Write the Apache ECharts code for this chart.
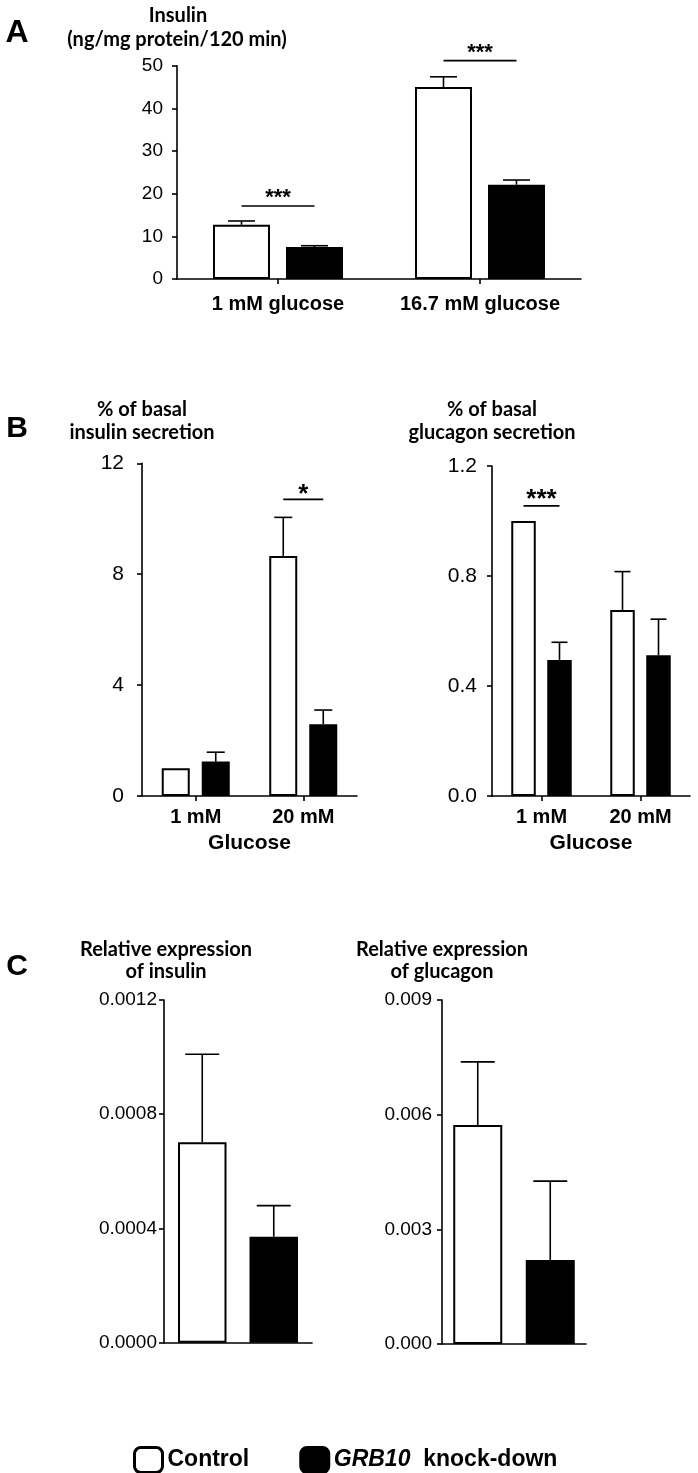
<!DOCTYPE html>
<html><head><meta charset="utf-8">
<script src="https://cdn.jsdelivr.net/npm/echarts@6/dist/echarts.min.js"></script>
<style>html,body{margin:0;padding:0;background:#fff}#c{width:698px;height:1473px}</style>
</head><body><div id="c"></div>
<script>
// ---------- DATA ----------
const seriesNames = ['Control', 'GRB10 knock-down'];

// Panel A
const catsA = ['1 mM glucose', '16.7 mM glucose'];
const ctrlA = [12.7, 45.0];
const ctrlErrA = [13.6, 47.4];
const kdA = [7.5, 22.1];
const kdErrA = [7.8, 23.2];
const sigA = [[0, 17.1, '***'], [1, 51.2, '***']];

// Panel B (insulin secretion)
const catsB = ['1 mM', '20 mM'];
const ctrlBIns = [1.0, 8.66];
const ctrlErrBIns = [1.0, 10.05];
const kdBIns = [1.24, 2.59];
const kdErrBIns = [1.58, 3.1];
const sigBIns = [[1, 10.7, '*']];

// Panel B (glucagon secretion)
const ctrlBGlu = [1.0, 0.676];
const ctrlErrBGlu = [1.0, 0.816];
const kdBGlu = [0.495, 0.512];
const kdErrBGlu = [0.559, 0.643];
const sigBGlu = [[0, 1.055, '***']];

// Panel C
const catsC = [''];
const ctrlCIns = [0.000702];
const ctrlErrCIns = [0.00101];
const kdCIns = [0.000371];
const kdErrCIns = [0.00048];
const ctrlCGlu = [0.00573];
const ctrlErrCGlu = [0.00738];
const kdCGlu = [0.0022];
const kdErrCGlu = [0.00426];

// ---------- LAYOUT ----------
const panels = [
  {grid:{left:177,top:65.7,width:404,height:213.3}, min:0,max:50,interval:10,dec:0,yFont:19,yMargin:14,
   cats:catsA, ctrl:ctrlA, ctrlErr:ctrlErrA, kd:kdA, kdErr:kdErrA, sig:sigA,
   barW:57, gapPx:16, cap:27, starFont:22, starOff:8, xFont:20, xMargin:15, xTick:true, xName:''},
  {grid:{left:142,top:463.3,width:215,height:332.7}, min:0,max:12,interval:4,dec:0,yFont:21,yMargin:18,
   cats:catsB, ctrl:ctrlBIns, ctrlErr:ctrlErrBIns, kd:kdBIns, kdErr:kdErrBIns, sig:sigBIns,
   barW:28, gapPx:12, cap:18, starFont:26, starOff:5, xFont:20, xMargin:11, xTick:true, xName:'Glucose'},
  {grid:{left:492,top:466,width:198,height:330}, min:0,max:1.2,interval:0.4,dec:1,yFont:21,yMargin:15,
   cats:catsB, ctrl:ctrlBGlu, ctrlErr:ctrlErrBGlu, kd:kdBGlu, kdErr:kdErrBGlu, sig:sigBGlu,
   barW:24.5, gapPx:11.5, cap:16, starFont:26, starOff:6, xFont:20, xMargin:11, xTick:true, xName:'Glucose'},
  {grid:{left:164,top:1000,width:148,height:342.7}, min:0,max:0.0012,interval:0.0004,dec:4,yFont:19,yMargin:7,
   cats:catsC, ctrl:ctrlCIns, ctrlErr:ctrlErrCIns, kd:kdCIns, kdErr:kdErrCIns, sig:[],
   barW:48.5, gapPx:23, cap:34, starFont:22, starOff:8, xFont:19, xMargin:12, xTick:false, xName:''},
  {grid:{left:442,top:1000,width:144,height:344}, min:0,max:0.009,interval:0.003,dec:3,yFont:19,yMargin:10,
   cats:catsC, ctrl:ctrlCGlu, ctrlErr:ctrlErrCGlu, kd:kdCGlu, kdErr:kdErrCGlu, sig:[],
   barW:49, gapPx:23.5, cap:34, starFont:22, starOff:8, xFont:19, xMargin:12, xTick:false, xName:''}
];

const ARIAL = '"Liberation Sans", Arial, sans-serif';
const CALIBRI = 'Lato, "Open Sans", sans-serif';

const grids = [], xAxes = [], yAxes = [], series = [];
panels.forEach((p, i) => {
  grids.push(Object.assign({containLabel:false}, p.grid));
  xAxes.push({
    type:'category', gridIndex:i, data:p.cats,
    axisLine:{show:true, lineStyle:{color:'#000', width:1.6}},
    axisTick:{show:p.xTick, alignWithLabel:true, length:5, lineStyle:{color:'#000', width:1.6}},
    axisLabel:{show:true, interval:0, hideOverlap:false, margin:p.xMargin, color:'#000',
      fontFamily:ARIAL, fontWeight:'bold', fontSize:p.xFont},
    name:p.xName, nameLocation:'middle', nameGap:37,
    nameTextStyle:{color:'#000', fontFamily:ARIAL, fontWeight:'bold', fontSize:21},
    splitLine:{show:false}
  });
  yAxes.push({
    type:'value', gridIndex:i, min:p.min, max:p.max, interval:p.interval,
    axisLine:{show:true, lineStyle:{color:'#000', width:1.6}},
    axisTick:{show:true, length:5, lineStyle:{color:'#000', width:1.6}},
    axisLabel:{margin:p.yMargin, color:'#000', fontFamily:ARIAL, fontSize:p.yFont,
      formatter: v => Number(v).toFixed(p.dec)},
    splitLine:{show:false}
  });
  const barGap = (p.gapPx / p.barW * 100).toFixed(1) + '%';
  series.push({
    name:seriesNames[0], type:'bar', xAxisIndex:i, yAxisIndex:i, data:p.ctrl,
    barWidth:p.barW, barGap:barGap,
    itemStyle:{color:'#fff', borderColor:'#000', borderWidth:2}, emphasis:{disabled:true}
  });
  series.push({
    name:seriesNames[1], type:'bar', xAxisIndex:i, yAxisIndex:i, data:p.kd,
    barWidth:p.barW, barGap:barGap,
    itemStyle:{color:'#000', borderColor:'#000', borderWidth:2}, emphasis:{disabled:true}
  });
  const off = (p.barW + p.gapPx) / 2;
  const errData = [];
  p.cats.forEach((c, k) => {
    errData.push([k, p.ctrl[k], p.ctrlErr[k], -1]);
    errData.push([k, p.kd[k], p.kdErr[k], 1]);
  });
  series.push({
    name:'err' + i, type:'custom', xAxisIndex:i, yAxisIndex:i, data:errData, z:5, silent:true,
    renderItem:(params, api) => {
      const k = api.value(0), v = api.value(1), e = api.value(2), s = api.value(3);
      if (e <= v) return null;
      const b = api.coord([k, v]), t = api.coord([k, e]);
      const x = b[0] + s * off;
      const st = {stroke:'#000', lineWidth:1.6};
      return {type:'group', children:[
        {type:'line', shape:{x1:x, y1:b[1], x2:x, y2:t[1]}, style:st},
        {type:'line', shape:{x1:x - p.cap/2, y1:t[1], x2:x + p.cap/2, y2:t[1]}, style:st}
      ]};
    }
  });
  if (p.sig.length) {
    series.push({
      name:'sig' + i, type:'custom', xAxisIndex:i, yAxisIndex:i, data:p.sig.map(d => [d[0], d[1]]),
      z:5, silent:true, clip:false,
      renderItem:(params, api) => {
        const k = api.value(0), lv = api.value(1);
        const c = api.coord([k, lv]);
        const label = p.sig[params.dataIndex][2];
        return {type:'group', children:[
          {type:'line', shape:{x1:c[0] - off, y1:c[1], x2:c[0] + off, y2:c[1]}, style:{stroke:'#000', lineWidth:1.6}},
          {type:'text', style:{text:label, x:c[0], y:c[1] - p.starOff, align:'center', verticalAlign:'middle',
            font:'bold ' + p.starFont + 'px ' + ARIAL, fill:'#000'}}
        ]};
      }
    });
  }
});

const txt = (text, x, y, size, family) => ({
  type:'text', x:x, y:y,
  style:{text:text, align:'center', verticalAlign:'middle', font:'bold ' + size + 'px ' + family, fill:'#000'}
});

const graphic = [
  txt('A', 17, 33, 32, ARIAL),
  txt('Insulin', 178, 16, 20, CALIBRI),
  txt('(ng/mg protein/120 min)', 177, 40, 20, CALIBRI),
  txt('B', 17, 429, 30, ARIAL),
  txt('% of basal', 142, 410, 20, CALIBRI),
  txt('insulin secretion', 142, 433, 20, CALIBRI),
  txt('% of basal', 492, 410, 20, CALIBRI),
  txt('glucagon secretion', 492, 433, 20, CALIBRI),
  txt('C', 17, 967, 30, ARIAL),
  txt('Relative expression', 166, 950, 20, CALIBRI),
  txt('of insulin', 166, 972, 20, CALIBRI),
  txt('Relative expression', 442, 950, 20, CALIBRI),
  txt('of glucagon', 442, 972, 20, CALIBRI)
];

const chart = echarts.init(document.getElementById('c'), null, {renderer:'canvas'});
chart.setOption({
  animation:false,
  backgroundColor:'#fff',
  grid:grids, xAxis:xAxes, yAxis:yAxes, series:series, graphic:graphic,
  legend:{
    data:seriesNames, left:128, top:1441, orient:'horizontal',
    icon:'roundRect', itemWidth:28, itemHeight:25, itemGap:50,
    selectedMode:false,
    itemStyle:{borderWidth:3, borderColor:'#000'},
    formatter: n => n === 'GRB10 knock-down' ? '{i|GRB10}  knock-down' : n,
    textStyle:{color:'#000', fontFamily:ARIAL, fontWeight:'bold', fontSize:23,
      rich:{i:{fontStyle:'italic', fontWeight:'bold', fontSize:23, fontFamily:ARIAL, color:'#000'}}}
  }
});
</script>
</body></html>
